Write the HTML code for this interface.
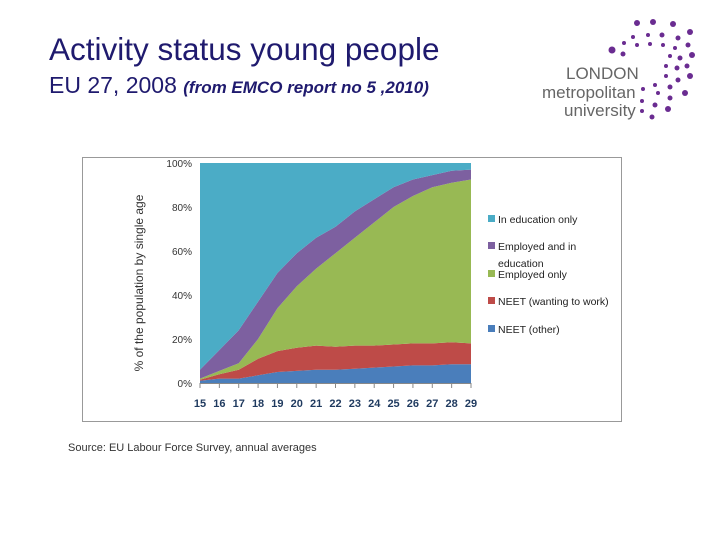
<!DOCTYPE html>
<html><head><meta charset="utf-8"><style>
body{margin:0;width:720px;height:540px;background:#fff;position:relative;overflow:hidden;font-family:"Liberation Sans",sans-serif}
.t{position:absolute;color:#1f1a6e;white-space:nowrap}
</style></head><body>
<div class="t" style="left:49px;top:31px;font-size:31.5px">Activity status young people</div>
<div class="t" style="left:49px;top:72px;font-size:23px">EU 27, 2008 <i style="font-size:17px;font-weight:bold">(from EMCO report no 5 ,2010)</i></div>
<svg style="position:absolute;left:530px;top:10px" width="180" height="115">
<g fill="#6a2c91" id="dots"></g>
<text x="36" y="69" font-size="17" fill="#666" font-family="Liberation Sans">LONDON</text>
<text x="12" y="88" font-size="17" fill="#666" font-family="Liberation Sans">metropolitan</text>
<text x="34" y="106" font-size="17" fill="#666" font-family="Liberation Sans">university</text>
</svg>
<svg id="chart" style="position:absolute;left:0;top:0" width="720" height="540"></svg>
<div class="t" style="left:68px;top:442px;font-size:11px;color:#333">Source: EU Labour Force Survey, annual averages</div>
<script>
const ages=[15,16,17,18,19,20,21,22,23,24,25,26,27,28,29];
const neetOther=[1,2,2,3.5,5,5.5,6,6,6.5,7,7.5,8,8,8.5,8.5];
const neetWanting=[0.5,2,4,7.5,9.5,10.5,11,10.5,10.5,10,10,10,10,10,9.5];
const employedOnly=[0.5,1.5,3,9,19.5,28,35,42.5,49,56,62.5,67,71,72.5,74.5];
const employedEdu=[4,9.5,15,17,16,15,14,12,12,10.5,9,7.5,5.5,5.5,4.5];
const yTicks=[0,20,40,60,80,100];
const series=[
 {name:"NEET (other)",v:neetOther,c:"#4a7ebb"},
 {name:"NEET (wanting to work)",v:neetWanting,c:"#be4b48"},
 {name:"Employed only",v:employedOnly,c:"#98b954"},
 {name:"Employed and in education",v:employedEdu,c:"#7d60a0"},
 {name:"In education only",v:null,c:"#4bacc6"}];
const NS="http://www.w3.org/2000/svg",svg=document.getElementById('chart');
function mk(t,a){const e=document.createElementNS(NS,t);for(const k in a)e.setAttribute(k,a[k]);svg.appendChild(e);return e;}
const X=a=>200+(a-15)*(471-200)/14, Y=p=>383-p*2.2;
const fr=mk('rect',{x:82.5,y:157.5,width:539,height:264,fill:'#fff',stroke:'#999'});


let base=ages.map(()=>0);
series.forEach((s,i)=>{
 const vals=s.v?s.v:base.map(b=>100-b);
 const top=base.map((b,j)=>b+vals[j]);
 let d=ages.map((a,j)=>(j?'L':'M')+X(a)+','+Y(top[j])).join('');
 for(let j=ages.length-1;j>=0;j--)d+='L'+X(ages[j])+','+Y(base[j]);
 const p=mk('path',{d:d+'Z',fill:s.c});
 
 
 base=top;
});
mk('line',{x1:200,y1:383.5,x2:471,y2:383.5,stroke:'#888'});
yTicks.forEach(t=>{const e=mk('text',{x:192,y:Y(t)+4,'font-size':10,'text-anchor':'end',fill:'#333'});e.textContent=t+'%';
 
 });
ages.forEach(a=>{mk('line',{x1:X(a),y1:383,x2:X(a),y2:388,stroke:'#888'});
 const e=mk('text',{x:X(a),y:407,'font-size':11,'font-weight':'bold','text-anchor':'middle',fill:'#1f3a5f'});e.textContent=a;
 
 });
const yt=mk('text',{transform:'translate(143,283) rotate(-90)','font-size':12,'text-anchor':'middle',fill:'#333'});yt.textContent='% of the population by single age';


const leg=[["In education only",220,"#4bacc6"],["Employed and in",247,"#7d60a0"],["Employed only",275,"#98b954"],["NEET (wanting to work)",302,"#be4b48"],["NEET (other)",330,"#4a7ebb"]];
leg.forEach(l=>{const g=document.createElementNS(NS,'g');svg.appendChild(g);
 
 
 const r=document.createElementNS(NS,'rect');r.setAttribute('x',488);r.setAttribute('y',l[1]-5);r.setAttribute('width',7);r.setAttribute('height',7);r.setAttribute('fill',l[2]);g.appendChild(r);
 const t=document.createElementNS(NS,'text');t.setAttribute('x',498);t.setAttribute('y',l[1]+3);t.setAttribute('font-size',10.5);t.setAttribute('fill','#222');t.textContent=l[0];g.appendChild(t);});
const e2=mk('text',{x:498,y:267,'font-size':10.5,fill:'#222'});e2.textContent='education';


const dg=document.getElementById('dots');
[[107,13,3],[123,12,3],[143,14,3],[160,22,3],[103,27,2],[118,25,2],[132,25,2.5],[148,28,2.5],[158,35,2.5],[94,33,2],[107,35,2],[120,34,2],[133,35,2],[145,38,2],[162,45,3],[82,40,3.5],[93,44,2.5],[140,46,2],[150,48,2.5],[157,56,2.5],[136,56,2],[147,58,2.5],[160,66,3],[136,66,2],[148,70,2.5],[125,75,2],[140,77,2.5],[155,83,3],[113,79,2],[128,83,2],[140,88,2.5],[112,91,2],[125,95,2.5],[138,99,3],[112,101,2],[122,107,2.5]].forEach(c=>{
 const e=document.createElementNS(NS,'circle');e.setAttribute('cx',c[0]);e.setAttribute('cy',c[1]);e.setAttribute('r',c[2]);dg.appendChild(e);});
</script>
</body></html>
